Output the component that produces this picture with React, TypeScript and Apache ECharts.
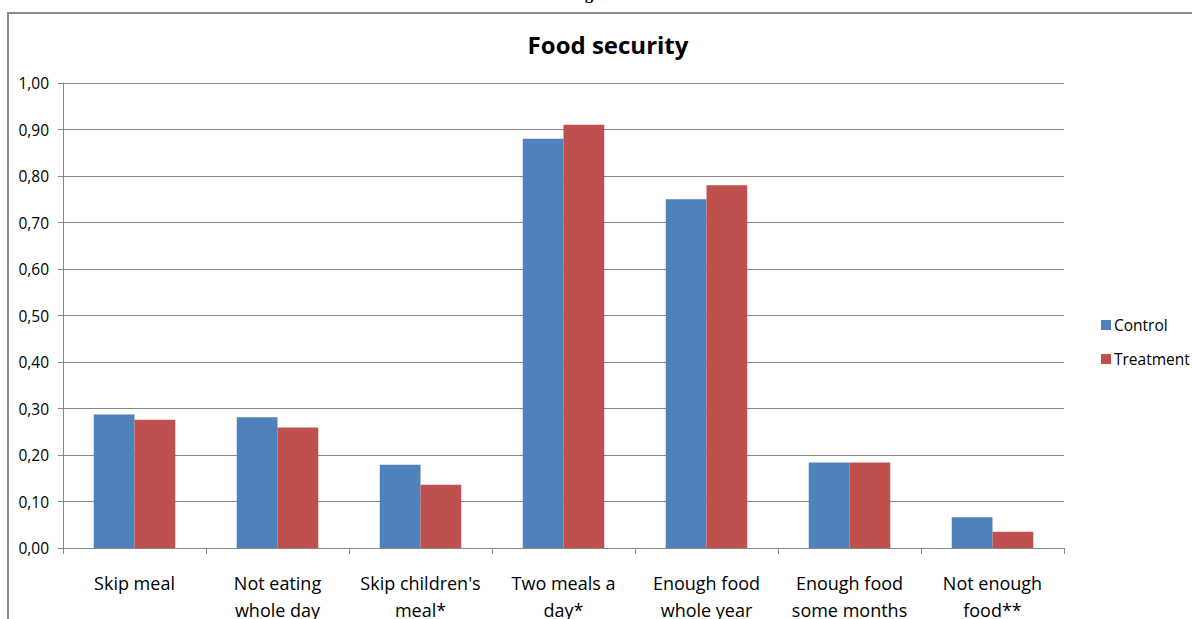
import React, { useEffect, useRef } from "react";
import * as echarts from "echarts";

const categories = [
  "Skip meal",
  "Not eating\nwhole day",
  "Skip children's\nmeal*",
  "Two meals a\nday*",
  "Enough food\nwhole year",
  "Enough food\nsome months",
  "Not enough\nfood**",
];
const controlValues = [0.287, 0.281, 0.179, 0.88, 0.75, 0.184, 0.066];
const treatmentValues = [0.276, 0.259, 0.136, 0.91, 0.78, 0.184, 0.035];
const seriesNames = ["Control", "Treatment"];
const titleText = "Food security";
const captionText = "Figure 3";

const FONT = "'Open Sans', Lato, sans-serif";

export default function App() {
  const ref = useRef<HTMLDivElement>(null);
  useEffect(() => {
    if (!ref.current) return;
    const chart = echarts.init(ref.current, undefined, { renderer: "svg" });
    chart.setOption({
      animation: false,
      backgroundColor: "#ffffff",
      textStyle: { fontFamily: FONT },
      title: {
        text: titleText,
        left: 603,
        top: 27,
        textAlign: "center",
        textStyle: { fontSize: 24, fontWeight: "bold", color: "#000", fontFamily: FONT },
      },
      graphic: [
        {
          type: "rect",
          silent: true,
          shape: { x: 8, y: 13, width: 1300, height: 800 },
          style: { fill: "none", stroke: "#8a8a8a", lineWidth: 2 },
        },
        {
          type: "text",
          silent: true,
          x: 600,
          y: 2,
          style: {
            text: captionText,
            font: "bold 17px 'Liberation Serif', serif",
            fill: "#000",
            align: "center",
            verticalAlign: "bottom",
          },
        },
      ],
      legend: {
        orient: "vertical",
        left: 1096,
        top: 312,
        itemWidth: 10,
        itemHeight: 10,
        itemGap: 18,
        icon: "rect",
        textStyle: { fontSize: 15.5, color: "#000", fontFamily: FONT, padding: [0, 0, 0, -2] },
        data: seriesNames,
      },
      grid: {
        left: 63,
        right: 128,
        top: 83,
        bottom: 71,
        containLabel: false,
        outerBoundsMode: "none",
      },
      xAxis: {
        type: "category",
        data: categories,
        axisLine: { lineStyle: { color: "#868686", width: 1 } },
        axisTick: { show: true, length: 6, lineStyle: { color: "#868686" } },
        axisLabel: {
          color: "#000",
          fontSize: 18,
          margin: 21,
          lineHeight: 27,
          interval: 0,
          fontFamily: FONT,
        },
      },
      yAxis: {
        type: "value",
        min: 0,
        max: 1,
        interval: 0.1,
        axisLine: { show: true, lineStyle: { color: "#868686", width: 1 } },
        axisTick: { show: true, length: 5, lineStyle: { color: "#868686" } },
        splitLine: { lineStyle: { color: "#868686", width: 1 } },
        axisLabel: {
          color: "#000",
          fontSize: 15.5,
          margin: 14,
          fontFamily: FONT,
          formatter: (v: number) => v.toFixed(2).replace(".", ","),
        },
      },
      series: [
        {
          name: seriesNames[0],
          type: "bar",
          data: controlValues,
          itemStyle: { color: "#4f81bd" },
          barGap: "0%",
          barCategoryGap: "43%",
        },
        {
          name: seriesNames[1],
          type: "bar",
          data: treatmentValues,
          itemStyle: { color: "#c0504d" },
          barGap: "0%",
          barCategoryGap: "43%",
        },
      ],
    });
    return () => chart.dispose();
  }, []);
  return (
    <div
      ref={ref}
      style={{ position: "fixed", left: 0, top: 0, width: 1192, height: 619 }}
    />
  );
}
